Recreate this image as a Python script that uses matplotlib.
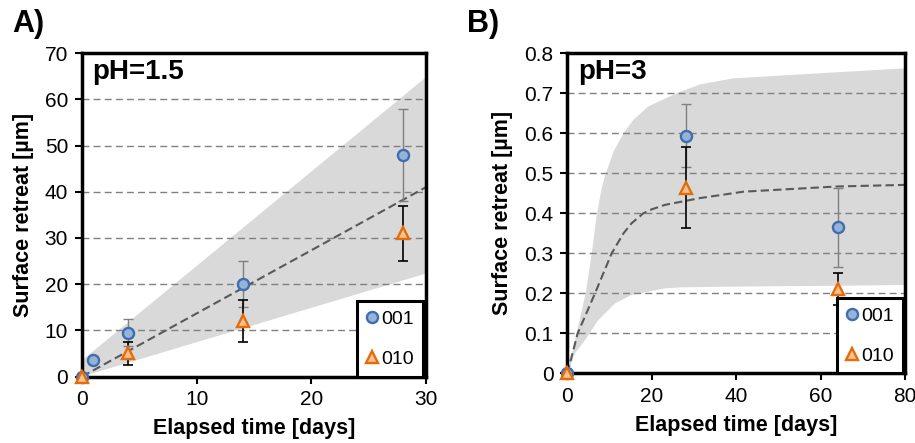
import matplotlib
matplotlib.use("Agg")
import matplotlib.pyplot as plt
from matplotlib.lines import Line2D

plt.rcParams['font.family'] = ['Liberation Sans', 'DejaVu Sans']

# ---- panel A (pH=1.5) ----
a_x_001 = [0, 1, 4, 14, 28]
a_y_001 = [0, 3.5, 9.5, 20.0, 48.0]
a_err_001 = [0, 0, 2.9, 5.0, 10.0]
a_x_010 = [0, 4, 14, 28]
a_y_010 = [0, 5.0, 12.0, 31.0]
a_err_010 = [0, 2.5, 4.5, 6.0]
a_fit_x = [0, 30]
a_fit_y = [0, 41.0]
a_band_x = [0, 30]
a_band_lo = [0, 22.3]
a_band_hi = [3.5, 64.8]

# ---- panel B (pH=3) ----
b_x_001 = [0, 28, 64]
b_y_001 = [0, 0.594, 0.365]
b_err_001 = [0, 0.078, 0.099]
b_x_010 = [0, 28, 64]
b_y_010 = [0, 0.464, 0.211]
b_err_010 = [0, 0.101, 0.040]
b_fit_x = [0, 2.45, 6.55, 10.5, 13.3, 15.2, 18, 20, 23.1, 31.4, 41.7, 63.8, 80]
b_fit_y = [0, 0.10, 0.20, 0.30, 0.35, 0.375, 0.40, 0.41, 0.421, 0.438, 0.454, 0.467, 0.471]
b_hi_x = [0, 1, 2.2, 4.35, 5.8, 6.9, 8.0, 8.8, 11, 13.3, 15.6, 19.2, 25.9, 31.4, 39.3, 60, 80]
b_hi_y = [0, 0.045, 0.10, 0.20, 0.30, 0.39, 0.455, 0.49, 0.555, 0.60, 0.633, 0.667,
          0.70, 0.722, 0.737, 0.75, 0.762]
b_lo_x = [0, 1.8, 4.2, 7.3, 11.3, 15.2, 23.1, 26.7, 40, 64, 80]
b_lo_y = [0, 0.05, 0.083, 0.133, 0.175, 0.196, 0.2125, 0.215, 0.217, 0.219, 0.221]

labels = ['001', '010']

c_fill = '#95B3D7'
c_edge = '#3E6EAE'
o_fill = '#FAC090'
o_edge = '#E46C0A'
band_c = '#D9D9D9'


def draw_panel(ax, x1, y1, e1, x2, y2, e2, fx, fy, bx_lo, blo, bx_hi, bhi):
    poly_x = list(bx_hi) + list(bx_lo)[::-1]
    poly_y = list(bhi) + list(blo)[::-1]
    ax.fill(poly_x, poly_y, color=band_c, lw=0, zorder=0.8)
    ax.plot(fx, fy, color='#595959', lw=1.5, dashes=(4, 2), zorder=2)
    ax.errorbar(x1, y1, yerr=e1, fmt='none', ecolor='#7F7F7F', elinewidth=1,
                capsize=3.5, capthick=1, zorder=3)
    ax.errorbar(x2, y2, yerr=e2, fmt='none', ecolor='black', elinewidth=1.2,
                capsize=3.5, capthick=1.2, zorder=3)
    ax.plot(x1, y1, 'o', ms=8, mfc=c_fill, mec=c_edge, mew=1.7, ls='none',
            zorder=4, clip_on=False)
    ax.plot(x2, y2, '^', ms=9, mfc=o_fill, mec=o_edge, mew=1.7, ls='none',
            zorder=5, clip_on=False)

    ax.yaxis.grid(True, color='#808080', lw=1, dashes=(5, 3))
    for s in ax.spines.values():
        s.set_linewidth(2.5)
    ax.tick_params(direction='out', length=5, width=1.5, labelsize=15, pad=5)
    ax.set_xlabel('Elapsed time [days]', fontsize=15.5, fontweight='bold', labelpad=6)
    ax.set_ylabel('Surface retreat [µm]', fontsize=15.5, fontweight='bold', labelpad=8)

    handles = [
        Line2D([], [], marker='o', ms=8, mfc=c_fill, mec=c_edge, mew=1.7, ls='none'),
        Line2D([], [], marker='^', ms=9, mfc=o_fill, mec=o_edge, mew=1.7, ls='none'),
    ]
    return handles


fig = plt.figure(figsize=(9.15, 4.43), dpi=100)
axA = fig.add_axes([0.0896, 0.150, 0.376, 0.730])
axB = fig.add_axes([0.620, 0.157, 0.3694, 0.723])

h = draw_panel(axA, a_x_001, a_y_001, a_err_001, a_x_010, a_y_010, a_err_010,
               a_fit_x, a_fit_y, a_band_x, a_band_lo, a_band_x, a_band_hi)
axA.set_xlim(0, 30)
axA.set_ylim(0, 70)
axA.set_xticks([0, 10, 20, 30])
axA.set_yticks(range(0, 71, 10))
axA.text(0.031, 0.919, 'pH=1.5', transform=axA.transAxes, fontsize=20,
         fontweight='bold', va='baseline', ha='left')

draw_panel(axB, b_x_001, b_y_001, b_err_001, b_x_010, b_y_010, b_err_010,
           b_fit_x, b_fit_y, b_lo_x, b_lo_y, b_hi_x, b_hi_y)
axB.set_xlim(0, 80)
axB.set_ylim(0, 0.8)
axB.set_xticks([0, 20, 40, 60, 80])
axB.set_yticks([0, 0.1, 0.2, 0.3, 0.4, 0.5, 0.6, 0.7, 0.8])
axB.set_yticklabels(['0', '0.1', '0.2', '0.3', '0.4', '0.5', '0.6', '0.7', '0.8'])
axB.text(0.0325, 0.919, 'pH=3', transform=axB.transAxes, fontsize=20,
         fontweight='bold', va='baseline', ha='left')

for ax, xr in ((axA, 0.991), (axB, 0.993)):
    leg = ax.legend(h, labels, loc='lower right', bbox_to_anchor=(xr, 0.0),
                    borderaxespad=0, frameon=True, fancybox=False,
                    edgecolor='black', framealpha=1, fontsize=14,
                    handlelength=0.65, handletextpad=0.18, labelspacing=1.15,
                    borderpad=0.45)
    leg.get_frame().set_linewidth(2.2)
    leg.set_zorder(10)

fig.text(0.013, 0.928, 'A)', fontsize=22, fontweight='bold', va='baseline')
fig.text(0.510, 0.928, 'B)', fontsize=22, fontweight='bold', va='baseline')

fig.savefig('out.png', dpi=100)
